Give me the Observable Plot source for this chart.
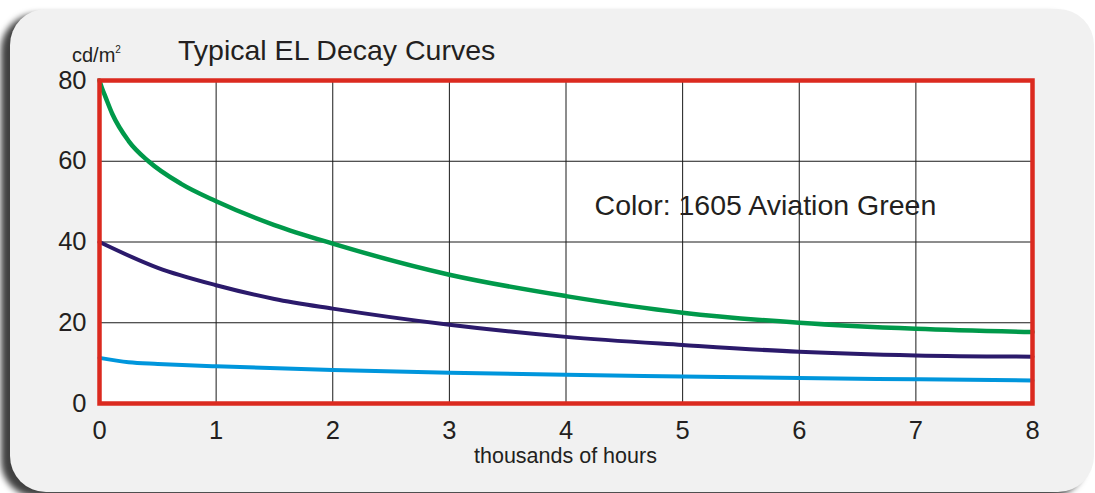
<!DOCTYPE html>
<html>
<head>
<meta charset="utf-8">
<script src="https://cdn.jsdelivr.net/npm/d3@7"></script>
<script src="https://cdn.jsdelivr.net/npm/@observablehq/plot@0.6"></script>
<style>
  html, body { margin: 0; padding: 0; background: #ffffff; width: 1095px; height: 493px; overflow: hidden; }
  #panel { position: absolute; left: 10px; top: 9px; width: 1084px; height: 483px; background: #f1f1f1;
           border-radius: 36px; box-shadow: -9px 5px 6px rgba(0,0,0,0.75); }
  #chart { position: absolute; left: 0; top: 0; }
  .lbl { position: absolute; font-family: "Liberation Sans", Arial, sans-serif; color: #231f20; white-space: nowrap; line-height: 1; }
</style>
</head>
<body>
<div id="panel"></div>
<div id="chart"></div>
<div class="lbl" style="left:178px; top:36px; font-size:28.5px;">Typical EL Decay Curves</div>
<div class="lbl" style="left:72px; top:45px; font-size:20px;">cd/m<sup style="font-size:10px; vertical-align: 9px; line-height: 0;">2</sup></div>
<div class="lbl" style="left:474px; top:446px; font-size:21.5px;">thousands of hours</div>
<script>
const xTicks = [0, 1, 2, 3, 4, 5, 6, 7, 8];
const yTicks = [0, 20, 40, 60, 80];
const annotation = "Color: 1605 Aviation Green";

const greenHours = [0, 0.02, 0.05, 0.11, 0.25, 0.42, 0.7, 1, 1.5, 2, 3, 4, 5, 6, 7, 8];
const greenValues = [80, 78.2, 76, 71.7, 65, 60, 54.4, 50.1, 44.2, 39.6, 31.9, 26.6, 22.5, 20.0, 18.5, 17.7];

const navyHours = [0, 0.5, 1, 1.5, 2, 3, 4, 5, 6, 7, 8];
const navyValues = [40, 33.6, 29.3, 25.9, 23.5, 19.5, 16.5, 14.5, 12.8, 11.9, 11.6];

const blueHours = [0, 0.25, 0.5, 1, 2, 3, 4, 5, 6, 7, 8];
const blueValues = [11.3, 10.2, 9.8, 9.2, 8.3, 7.6, 7.1, 6.7, 6.3, 6.0, 5.7];

const toRows = (hs, vs) => hs.map((h, i) => ({h, v: vs[i]}));
const green = toRows(greenHours, greenValues);
const navy = toRows(navyHours, navyValues);
const blue = toRows(blueHours, blueValues);

const plot = Plot.plot({
  width: 1095,
  height: 493,
  marginLeft: 99,
  marginRight: 63,
  marginTop: 80,
  marginBottom: 90,
  style: {background: "transparent", fontFamily: "Liberation Sans, Arial, sans-serif", color: "#231f20", overflow: "visible"},
  x: {domain: [0, 8], ticks: xTicks},
  y: {domain: [0, 80], ticks: yTicks},
  marks: [
    Plot.frame({fill: "#ffffff", stroke: "none"}),
    Plot.gridX(xTicks.slice(1, -1), {stroke: "#1a1a1a", strokeOpacity: 1, strokeWidth: 1}),
    Plot.gridY(yTicks.slice(1, -1), {stroke: "#1a1a1a", strokeOpacity: 1, strokeWidth: 1}),
    Plot.axisX(xTicks, {tickSize: 0, tickPadding: 17, fontSize: 25.5, label: null, fill: "#231f20", tickFormat: d3.format("d")}),
    Plot.axisY(yTicks, {tickSize: 0, tickPadding: 13, fontSize: 25.5, label: null, fill: "#231f20", tickFormat: d3.format("d")}),
    Plot.text([annotation], {x: 4.245, y: 49, text: d => d, textAnchor: "start", fontSize: 28.5, fill: "#231f20"}),
    Plot.line(blue, {x: "h", y: "v", stroke: "#0096dc", strokeWidth: 4, curve: "monotone-x"}),
    Plot.line(navy, {x: "h", y: "v", stroke: "#2b1a6b", strokeWidth: 4, curve: "monotone-x"}),
    Plot.line(green, {x: "h", y: "v", stroke: "#00994a", strokeWidth: 4.5, curve: "monotone-x"}),
    Plot.frame({stroke: "#db2a1f", strokeWidth: 4.5})
  ]
});
document.getElementById("chart").appendChild(plot);
</script>
</body>
</html>
